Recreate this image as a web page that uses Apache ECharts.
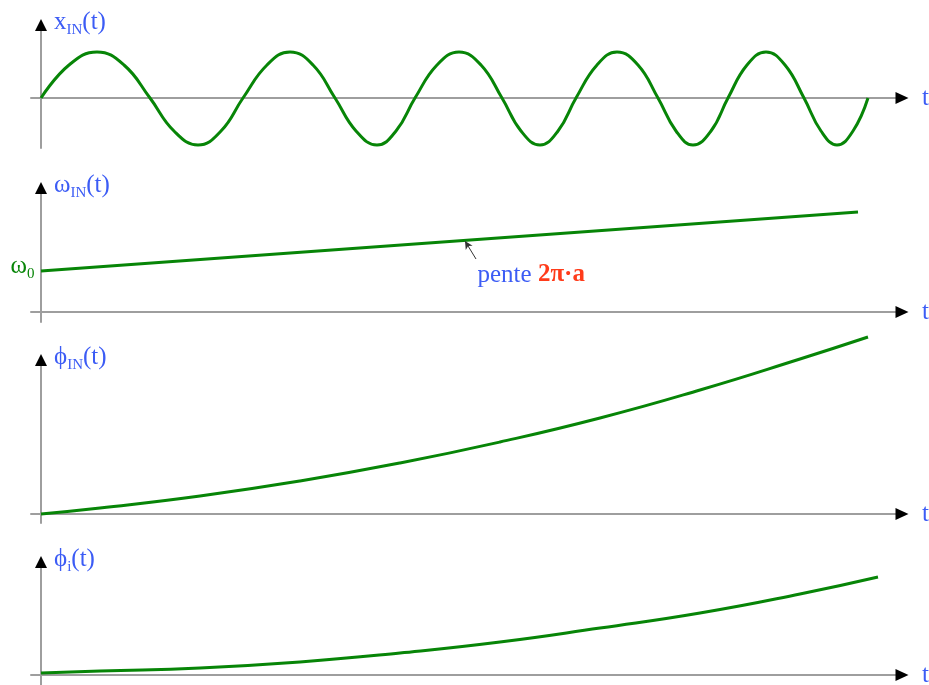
<!DOCTYPE html>
<html>
<head>
<meta charset="utf-8">
<script src="https://cdn.jsdelivr.net/npm/echarts@6/dist/echarts.min.js"></script>
<style>
  html, body { margin: 0; padding: 0; background: #ffffff; }
  #chart { width: 929px; height: 685px; }
</style>
</head>
<body>
<div id="chart"></div>
<script>
// ---- data (time axis in arbitrary units, t = 0 at the vertical axis) ----

// x_IN(t): chirped sinusoid — zero crossings, mid-height points and extrema
const T_X  = [0, 28, 56, 83, 109, 133, 157, 180, 202, 226, 249, 272, 294, 315, 336, 355,
              374, 396, 418, 440, 461, 480, 499, 517, 535, 556, 576, 597, 617, 635, 652, 670,
              687, 706, 725, 744, 763, 780, 796, 812, 827];
const X_IN = [0, 33, 46, 33, 0, -33, -47, -33, 0, 33, 46, 33, 0, -33, -47, -33,
              0, 33, 46, 33, 0, -33, -47, -33, 0, 33, 46, 33, 0, -33, -47, -33,
              0, 33, 46, 33, 0, -33, -47, -33, 0];

// omega_IN(t): linear instantaneous frequency, starting at omega_0
const T_OMEGA  = [0, 817];
const OMEGA_IN = [41, 100];

// phi_IN(t): instantaneous phase
const T_PHI_IN = [0, 59, 159, 259, 359, 459, 559, 659, 759, 827];
const PHI_IN   = [0,  6,  18,  33,  51,  72,  96, 124, 155, 177];

// phi_i(t): quadratic phase term
const T_PHI_I = [0, 59, 159, 259, 359, 459, 559, 659, 759, 837];
const PHI_I   = [2,  4,   7,  13,  22,  33,  47,  62,  81,  98];

// slope annotation: arrow tail -> tip (on the omega line), text anchor
const SLOPE_ARROW = [[435, 53], [424, 71]];
const SLOPE_TEXT  = [436, 37];

// axis titles
const Y_NAMES = ['{m|x}{s|IN}{m|(t)}', '{m|ω}{s|IN}{m|(t)}', '{m|ϕ}{s|IN}{m|(t)}', '{m|ϕ}{s|i}{m|(t)}'];
const X_NAME = 't';

// ---- styles ----
const SERIF = "'Liberation Serif', 'DejaVu Serif', serif";
const BLUE = '#3c5cf5';
const RED = '#ff3b1a';
const GREEN = '#078507';
const GRAY = '#9e9e9e';
const FS = 25;     // main text size
const FS_SUB = 15; // subscript size

const zip = (a, b) => a.map((v, i) => [v, b[i]]);

const richPair = (color) => ({
  m: { fontFamily: SERIF, fontSize: FS, color, lineHeight: 31 },
  s: { fontFamily: SERIF, fontSize: FS_SUB, color, lineHeight: 15, verticalAlign: 'bottom' }
});

// panel layout: top / height in pixels, value range of the vertical axis
const panels = [
  { top: 25,  height: 123, ymin: -50, ymax: 73,  data: zip(T_X, X_IN),          smooth: 0.45 },
  { top: 188, height: 134, ymin: -10, ymax: 124, data: zip(T_OMEGA, OMEGA_IN),  smooth: false },
  { top: 360, height: 163, ymin: -9,  ymax: 154, data: zip(T_PHI_IN, PHI_IN),   smooth: true },
  { top: 562, height: 123, ymin: -10, ymax: 113, data: zip(T_PHI_I, PHI_I),     smooth: true }
];

const grid = [], xAxis = [], yAxis = [], series = [];
const hidden = { axisTick: { show: false }, axisLabel: { show: false }, splitLine: { show: false } };

panels.forEach((p, i) => {
  grid.push({ left: 31, width: 871, top: p.top, height: p.height, containLabel: false, outerBoundsMode: 'none' });

  // gray axis lines
  xAxis.push(Object.assign({
    gridIndex: i, type: 'value', min: -10, max: 861, position: 'bottom',
    axisLine: { onZero: true, onZeroAxisIndex: 2 * i, lineStyle: { color: GRAY, width: 2 } }
  }, hidden));
  // black arrow head + axis name
  xAxis.push(Object.assign({
    gridIndex: i, type: 'value', min: -10, max: 861, position: 'bottom',
    axisLine: {
      onZero: true, onZeroAxisIndex: 2 * i,
      lineStyle: { color: '#000000', width: 0 },
      symbol: ['none', 'triangle'], symbolSize: [12, 13]
    },
    name: X_NAME, nameLocation: 'end', nameGap: 20,
    nameTextStyle: {
      color: BLUE, fontFamily: SERIF, fontSize: FS,
      align: 'left', verticalAlign: 'middle', padding: [5, 0, 0, 0]
    }
  }, hidden));

  yAxis.push(Object.assign({
    gridIndex: i, type: 'value', min: p.ymin, max: p.ymax, position: 'left',
    axisLine: { onZero: true, onZeroAxisIndex: 2 * i, lineStyle: { color: GRAY, width: 2 } }
  }, hidden));
  yAxis.push(Object.assign({
    gridIndex: i, type: 'value', min: p.ymin, max: p.ymax, position: 'left',
    axisLine: {
      onZero: true, onZeroAxisIndex: 2 * i,
      lineStyle: { color: '#000000', width: 0 },
      symbol: ['none', 'triangle'], symbolSize: [12, 12]
    },
    name: Y_NAMES[i], nameLocation: 'end', nameGap: 3,
    nameTextStyle: { align: 'left', verticalAlign: 'middle', padding: [0, 0, 0, 13], rich: richPair(BLUE) }
  }, hidden));

  const s = {
    type: 'line',
    xAxisIndex: 2 * i, yAxisIndex: 2 * i,
    data: p.data,
    showSymbol: false,
    smooth: p.smooth,
    clip: false,
    lineStyle: { color: GREEN, width: 3 },
    z: 3,
    silent: true
  };

  if (i === 1) {
    s.markPoint = {
      silent: true,
      data: [
        {
          coord: [T_OMEGA[0], OMEGA_IN[0]],
          symbol: 'circle', symbolSize: 1, itemStyle: { color: 'rgba(0,0,0,0)' },
          label: {
            show: true, position: 'left', distance: 6, offset: [0, -5],
            formatter: '{m|ω}{s|0}',
            rich: richPair(GREEN)
          }
        },
        {
          coord: SLOPE_TEXT,
          symbol: 'circle', symbolSize: 1, itemStyle: { color: 'rgba(0,0,0,0)' },
          label: {
            show: true, position: 'right', distance: 0,
            formatter: '{b|pente }{r|2π·a}',
            rich: {
              b: { fontFamily: SERIF, fontSize: FS, color: BLUE },
              r: { fontFamily: SERIF, fontSize: FS, color: RED, fontWeight: 'bold' }
            }
          }
        }
      ]
    };
    s.markLine = {
      silent: true,
      symbol: ['none', 'arrow'],
      symbolSize: [6, 8],
      lineStyle: { color: '#333333', width: 1, type: 'solid' },
      label: { show: false },
      data: [[{ coord: SLOPE_ARROW[0] }, { coord: SLOPE_ARROW[1] }]]
    };
  }
  series.push(s);
});

const chart = echarts.init(document.getElementById('chart'), null, { renderer: 'canvas' });
chart.setOption({
  animation: false,
  backgroundColor: '#ffffff',
  grid, xAxis, yAxis, series
});
</script>
</body>
</html>
